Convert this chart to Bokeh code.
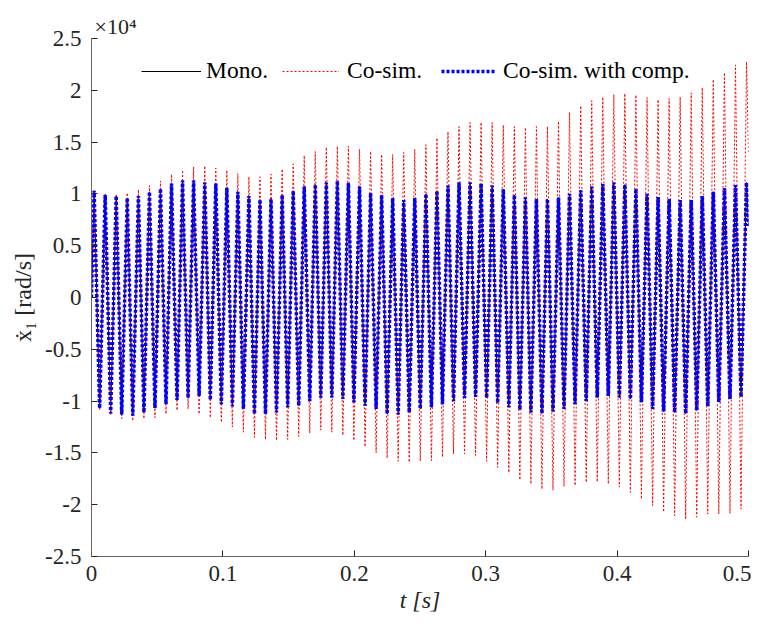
from bokeh.plotting import figure
from bokeh.models import Range1d, FixedTicker, Legend, LegendItem
from bokeh.embed import file_html
from bokeh.resources import INLINE

# ---- data (time in s, velocity in rad/s) ----
peak_times = [0.0020, 0.0104, 0.0188, 0.0272, 0.0357, 0.0441, 0.0525, 0.0609, 0.0693, 0.0777,
              0.0862, 0.0946, 0.1030, 0.1114, 0.1198, 0.1282, 0.1366, 0.1451, 0.1535, 0.1619,
              0.1703, 0.1787, 0.1871, 0.1955, 0.2040, 0.2124, 0.2208, 0.2292, 0.2376, 0.2460,
              0.2545, 0.2629, 0.2713, 0.2797, 0.2881, 0.2965, 0.3049, 0.3134, 0.3218, 0.3302,
              0.3386, 0.3470, 0.3554, 0.3638, 0.3723, 0.3807, 0.3891, 0.3975, 0.4059, 0.4143,
              0.4228, 0.4312, 0.4396, 0.4480, 0.4564, 0.4648, 0.4732, 0.4817, 0.4901, 0.4985]
trough_times = [0.0062, 0.0146, 0.0230, 0.0314, 0.0399, 0.0483, 0.0567, 0.0651, 0.0735, 0.0819,
                0.0904, 0.0988, 0.1072, 0.1156, 0.1240, 0.1324, 0.1408, 0.1493, 0.1577, 0.1661,
                0.1745, 0.1829, 0.1913, 0.1997, 0.2082, 0.2166, 0.2250, 0.2334, 0.2418, 0.2502,
                0.2587, 0.2671, 0.2755, 0.2839, 0.2923, 0.3007, 0.3091, 0.3176, 0.3260, 0.3344,
                0.3428, 0.3512, 0.3596, 0.3680, 0.3765, 0.3849, 0.3933, 0.4017, 0.4101, 0.4185,
                0.4270, 0.4354, 0.4438, 0.4522, 0.4606, 0.4690, 0.4774, 0.4859, 0.4943]
t_first = 0.0
t_last = 0.5

mono_peaks = [10300, 9900, 9800, 9600, 9800, 10200, 10500, 11000, 11300, 11300,
              11100, 11000, 10600, 10200, 9800, 9450, 9500, 9900, 10300, 10700,
              10900, 11100, 11250, 11050, 10700, 10100, 9900, 9600, 9400, 9600,
              10000, 10300, 10800, 11100, 11100, 11000, 10800, 10450, 9900, 9650,
              9500, 9500, 9650, 10000, 10350, 10700, 10950, 11100, 10900, 10500,
              10000, 9700, 9500, 9400, 9400, 9800, 10200, 10550, 10850, 11100]
mono_troughs = [-10700, -11200, -11300, -11400, -11100, -10650, -10300, -9900, -9700, -9500,
                -9900, -10300, -10500, -10750, -11250, -11250, -11100, -10600, -10450, -10000,
                -9650, -9650, -9800, -10100, -10450, -10750, -11250, -11300, -11100, -10750,
                -10600, -10300, -10000, -9700, -9600, -9700, -10200, -10600, -10850, -11100,
                -11200, -11000, -10750, -10300, -10000, -9650, -9500, -9650, -9800, -10100,
                -10750, -11000, -11100, -11200, -10900, -10500, -10100, -9800, -9600]
mono_first, mono_last = 0, 6900

cosim_peaks = [10300, 10000, 9900, 10100, 10400, 10800, 11250, 11900, 12300, 12600,
               12700, 12500, 12300, 11950, 11650, 11650, 11900, 12400, 12900, 13700,
               14100, 14500, 14600, 14600, 14300, 14100, 13800, 13800, 14000, 14300,
               14750, 15400, 16000, 16500, 16900, 16900, 16900, 16650, 16500, 16400,
               16500, 16500, 17000, 17850, 18500, 19000, 19350, 19600, 19700, 19550,
               19300, 19100, 19200, 19350, 19750, 20250, 21050, 21700, 22450, 22750]
cosim_troughs = [-10800, -11300, -11700, -11900, -11700, -11600, -11250, -10900, -10750, -11250,
                 -11600, -12050, -12500, -13000, -13500, -13700, -13800, -13700, -13400, -13100,
                 -12800, -13000, -13300, -13800, -14400, -15000, -15500, -15800, -15900, -15800,
                 -15750, -15400, -15100, -15100, -15250, -15800, -16400, -16900, -17600, -18000,
                 -18500, -18600, -18250, -18150, -17850, -17800, -18000, -18300, -18800, -19450,
                 -20100, -20700, -21050, -21400, -21200, -20900, -20900, -20850, -20400]
cosim_first, cosim_last = 0, 14000

comp_peaks = [10300, 9900, 9800, 9600, 9800, 10200, 10500, 11000, 11300, 11300,
              11100, 11000, 10600, 10200, 9800, 9450, 9500, 9900, 10300, 10700,
              10900, 11100, 11250, 11050, 10700, 10100, 9900, 9600, 9400, 9600,
              10000, 10300, 10800, 11100, 11100, 11000, 10800, 10450, 9900, 9650,
              9500, 9500, 9650, 10000, 10350, 10700, 10950, 11100, 10900, 10500,
              10000, 9700, 9500, 9400, 9400, 9800, 10200, 10550, 10850, 11100]
comp_troughs = [-10700, -11200, -11300, -11400, -11100, -10650, -10300, -9900, -9700, -9500,
                -9900, -10300, -10500, -10750, -11250, -11250, -11100, -10600, -10450, -10000,
                -9650, -9650, -9800, -10100, -10450, -10750, -11250, -11300, -11100, -10750,
                -10600, -10300, -10000, -9700, -9600, -9700, -10200, -10600, -10850, -11100,
                -11200, -11000, -10750, -10300, -10000, -9650, -9500, -9650, -9800, -10100,
                -10750, -11000, -11100, -11200, -10900, -10500, -10100, -9800, -9600]
comp_first, comp_last = 0, 6900

x_ticks = [0, 0.1, 0.2, 0.3, 0.4, 0.5]
x_tick_labels = ["0", "0.1", "0.2", "0.3", "0.4", "0.5"]
y_ticks = [-25000, -20000, -15000, -10000, -5000, 0, 5000, 10000, 15000, 20000, 25000]
y_tick_labels = ["-2.5", "-2", "-1.5", "-1", "-0.5", "0", "0.5", "1", "1.5", "2", "2.5"]

series_names = ["Mono.", "Co-sim.", "Co-sim. with comp."]


def assemble(first, peaks, troughs, last):
    ts = [t_first]
    vs = [first]
    for i in range(len(peaks)):
        ts.append(peak_times[i])
        vs.append(peaks[i])
        if i < len(troughs):
            ts.append(trough_times[i])
            vs.append(troughs[i])
    ts.append(t_last)
    vs.append(last)
    return ts, vs


FONT = "Liberation Serif"
TXT = "#262626"

p = figure(width=751, height=624, output_backend="svg", toolbar_location=None,
           x_range=Range1d(0, 0.5), y_range=Range1d(-25000, 25000),
           min_border_left=91, min_border_right=3, min_border_top=38, min_border_bottom=68)
p.outline_line_color = None
p.xgrid.visible = False
p.ygrid.visible = False
p.background_fill_color = "white"

tm, vm = assemble(mono_first, mono_peaks, mono_troughs, mono_last)
tc, vc = assemble(cosim_first, cosim_peaks, cosim_troughs, cosim_last)
tb, vb = assemble(comp_first, comp_peaks, comp_troughs, comp_last)

r_mono = p.line(tm, vm, line_color="black", line_width=1)
r_cosim = p.line(tc, vc, line_color="#ff0000", line_width=1, line_dash="2 2")
r_comp = p.line(tb, vb, line_color="#0000ff", line_width=3.5, line_dash="3 2")

for ax in (p.xaxis[0], p.yaxis[0]):
    ax.axis_line_color = "#666666"
    ax.axis_line_width = 1
    ax.major_tick_line_color = TXT
    ax.major_tick_in = 6
    ax.major_tick_out = 0
    ax.minor_tick_line_color = None
    ax.major_label_text_font = FONT
    ax.major_label_text_font_size = "23px"
    ax.major_label_text_color = TXT
    ax.axis_label_text_font = FONT
    ax.axis_label_text_font_size = "24px"
    ax.axis_label_text_color = TXT

p.xaxis.ticker = FixedTicker(ticks=x_ticks)
p.xaxis.major_label_overrides = dict(zip(x_ticks, x_tick_labels))
p.xaxis.major_label_standoff = 9
p.xaxis.axis_label = "t [s]"
p.xaxis.axis_label_text_font_style = "italic"
p.xaxis.axis_label_standoff = 3

p.yaxis.ticker = FixedTicker(ticks=y_ticks)
p.yaxis.major_label_overrides = dict(zip(y_ticks, y_tick_labels))
p.yaxis.major_label_standoff = 10
p.yaxis.axis_label = "ẋ₁ [rad/s]"
p.yaxis.axis_label_text_font_style = "normal"
p.yaxis.axis_label_standoff = 6

p.title.text = "×10⁴"
p.title.align = "left"
p.title.offset = 3
p.title.standoff = 0
p.title.text_font = FONT
p.title.text_font_size = "22px"
p.title.text_font_style = "normal"
p.title.text_color = TXT

legend_specs = [
    (r_mono, series_names[0], 50, 60, 5),
    (r_cosim, series_names[1], 191, 57, 8),
    (r_comp, series_names[2], 350, 55, 7),
]
for rend, name, lx, gw, so in legend_specs:
    lg = Legend(items=[LegendItem(label=name, renderers=[rend])], location=(lx, 472),
                orientation="horizontal", padding=0, margin=0, spacing=0,
                glyph_width=gw, glyph_height=24, label_height=24, label_standoff=so,
                border_line_alpha=0, background_fill_alpha=0,
                label_text_font=FONT, label_text_font_size="23.5px", label_text_color="black")
    p.add_layout(lg, "center")

open("out.html", "w").write(file_html(p, INLINE))
